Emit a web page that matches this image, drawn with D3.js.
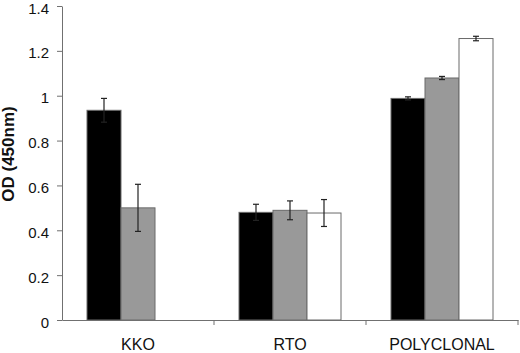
<!DOCTYPE html>
<html>
<head>
<meta charset="utf-8">
<script src="https://cdn.jsdelivr.net/npm/d3@7"></script>
<style>
  body { margin: 0; background: #fff; }
  svg { display: block; font-family: Arial, 'Liberation Sans', sans-serif; }
</style>
</head>
<body>
<div id="chart"></div>
<script>
const categories = ['KKO', 'RTO', 'POLYCLONAL']
const series = ['s1', 's2', 's3']
const colors = ['#000000', '#999999', '#ffffff']
// values per series, in category order (null = no bar)
const s1Values = [0.935, 0.48, 0.988]
const s2Values = [0.5, 0.489, 1.079]
const s3Values = [null, 0.477, 1.255]
const s1Errors = [0.053, 0.036, 0.007]
const s2Errors = [0.105, 0.042, 0.007]
const s3Errors = [null, 0.06, 0.01]
const yTicks = [0, 0.2, 0.4, 0.6, 0.8, 1, 1.2, 1.4]

const margin = { top: 6, right: 2, bottom: 33, left: 62 }
const W = 520
const H = 353
const width = W - margin.left - margin.right
const height = H - margin.top - margin.bottom

const values = [s1Values, s2Values, s3Values]
const errors = [s1Errors, s2Errors, s3Errors]
const data = []
categories.forEach((c, i) => {
  series.forEach((s, j) => {
    if (values[j][i] !== null) data.push({ cat: c, ser: s, idx: j, value: values[j][i], err: errors[j][i] })
  })
})

const svg = d3.select('#chart')
  .append('svg')
  .attr('width', W)
  .attr('height', H)
  .append('g')
  .attr('transform', 'translate(' + margin.left + ',' + margin.top + ')')

const x0 = d3.scaleBand().domain(categories).range([0, width])
const x1 = d3.scaleBand().domain(series).range([0, 102])
const y = d3.scaleLinear().domain([0, 1.4]).range([height, 0])

// bars
svg.selectAll('rect.bar')
  .data(data)
  .enter()
  .append('rect')
  .attr('class', 'bar')
  .attr('x', d => x0(d.cat) + (x0.bandwidth() - 102) / 2 + x1(d.ser))
  .attr('y', d => y(d.value))
  .attr('width', x1.bandwidth())
  .attr('height', d => height - y(d.value))
  .attr('fill', d => colors[d.idx])
  .attr('stroke', '#6a6a6a')
  .attr('stroke-width', 1)

// error bars
const cx = d => x0(d.cat) + (x0.bandwidth() - 102) / 2 + x1(d.ser) + x1.bandwidth() / 2
const eb = svg.selectAll('g.err').data(data).enter().append('g').attr('class', 'err')
  .attr('stroke', '#222')
  .attr('stroke-width', 1.2)
eb.append('line')
  .attr('x1', cx).attr('x2', cx)
  .attr('y1', d => y(d.value + d.err)).attr('y2', d => y(d.value - d.err))
eb.append('line')
  .attr('x1', d => cx(d) - 3).attr('x2', d => cx(d) + 3)
  .attr('y1', d => y(d.value + d.err)).attr('y2', d => y(d.value + d.err))
eb.append('line')
  .attr('x1', d => cx(d) - 3).attr('x2', d => cx(d) + 3)
  .attr('y1', d => y(d.value - d.err)).attr('y2', d => y(d.value - d.err))

// y axis
const yAxis = svg.append('g')
  .call(d3.axisLeft(y).tickValues(yTicks).tickFormat(d3.format('')).tickSize(5).tickSizeOuter(0).tickPadding(8))
yAxis.selectAll('path, line').attr('stroke', '#707070')
yAxis.selectAll('text').attr('font-size', 15).attr('dy', '0.47em').attr('fill', '#111').attr('font-family', 'Arial, Liberation Sans, sans-serif')

// x axis
const xAxis = svg.append('g')
  .attr('transform', 'translate(0,' + height + ')')
  .call(d3.axisBottom(x0).tickSize(0).tickPadding(19))
xAxis.selectAll('path').attr('stroke', '#707070')
xAxis.selectAll('text').attr('font-size', 16).attr('fill', '#111').attr('font-family', 'Arial, Liberation Sans, sans-serif')
// category divider ticks
svg.append('g').selectAll('line')
  .data(categories)
  .enter()
  .append('line')
  .attr('x1', d => x0(d) + x0.bandwidth())
  .attr('x2', d => x0(d) + x0.bandwidth())
  .attr('y1', height)
  .attr('y2', height + 5)
  .attr('stroke', '#707070')

// y title
svg.append('text')
  .attr('transform', 'translate(' + (-48) + ',' + (y(0.74)) + ') rotate(-90)')
  .attr('text-anchor', 'middle')
  .attr('font-weight', 'bold')
  .attr('font-size', 17)
  .attr('fill', '#111')
  .text('OD (450nm)')
</script>
</body>
</html>
